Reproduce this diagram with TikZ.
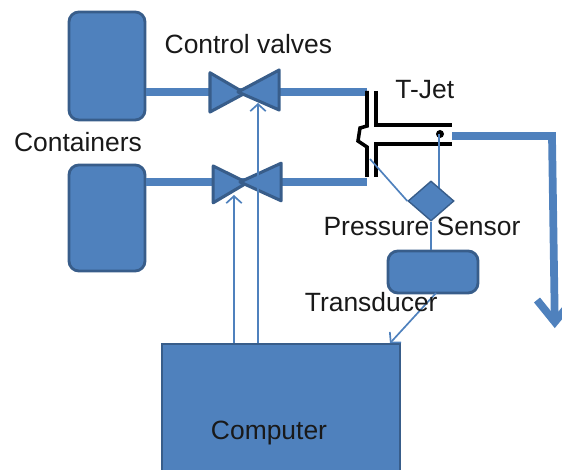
\documentclass[tikz,border=0pt]{standalone}
\usepackage{fontspec}
\setmainfont{Liberation Sans}
\usetikzlibrary{arrows.meta,shapes.geometric}
\definecolor{pipeblue}{HTML}{4F81BD}
\definecolor{edgeblue}{HTML}{385D8A}
\tikzset{
    tank/.style={draw=edgeblue, fill=pipeblue, line width=2pt, rounded corners=7pt, minimum width=1.9cm},
    pipe/.style={draw=pipeblue, line width=5.5pt},
    wire/.style={draw=pipeblue, line width=1.2pt},
    feed/.style={wire, -{Straight Barb[length=5pt,width=11pt]}},
    jet/.style={draw=black, line width=2.5pt},
    label/.style={font=\fontsize{18.8}{22}\selectfont, text=black!90, inner sep=0pt},
    valvepart/.style={draw=edgeblue, fill=pipeblue, line width=2.2pt, line join=round}
}
\begin{document}
\begin{tikzpicture}
    \useasboundingbox (0, 0) rectangle (14.05, 11.75);
    % Containers
    \node[tank, minimum height=2.7cm] (tankA) at (2.675, 10.1) {};
    \node[tank, minimum height=2.65cm] (tankB) at (2.675, 6.3) {};
    % Valve centres and pipe ends
    \coordinate (valveA) at (6.125, 9.45);
    \coordinate (valveB) at (6.175, 7.2);
    \coordinate (jetA) at (9.175, 9.45);
    \coordinate (jetB) at (9.175, 7.2);
    % Pipes
    \draw[pipe] (tankA.east |- valveA) -- (jetA);
    \draw[pipe] (tankB.east |- valveB) -- (jetB);
    % Valves
    \draw[valvepart] (5.25, 9.93) -- (5.25, 8.95) -- (6.125, 9.42) -- cycle;
    \draw[valvepart] (6.98, 10) -- (6.98, 9) -- (5.95, 9.45) -- cycle;
    \draw[valvepart] (5.33, 7.6) -- (5.33, 6.68) -- (6.175, 7.18) -- cycle;
    \draw[valvepart] (7.03, 7.67) -- (7.03, 6.73) -- (6, 7.2) -- cycle;
    % T-Jet
    \draw[jet] (9.175, 9.475) -- (9.175, 8.6) -- (9, 8.55) -- (8.95, 8.225) -- (9.175, 8.075) -- (9.175, 7.325);
    \draw[jet] (9.4, 9.475) -- (9.4, 8.625) -- (11.3, 8.625);
    \draw[jet] (11.3, 8.15) -- (9.4, 8.15) -- (9.4, 7.325);
    \node[circle, fill=black, inner sep=0pt, minimum size=0.2cm] (jetdot) at (11, 8.4) {};
    % Outlet
    \coordinate (outletA) at (11.3, 8.35);
    \coordinate (outletB) at (13.8, 8.35);
    \coordinate (outletC) at (13.87, 3.7);
    \coordinate (barbL) at (13.425, 4.25);
    \coordinate (barbR) at (14.325, 4.25);
    \draw[pipe] (outletA) -- (outletB) -- (outletC);
    \draw[pipe] (barbL) -- (outletC) -- (barbR);
    % Sensor, transducer, computer
    \coordinate (jetport) at (9.25, 7.775);
    \coordinate (dotline) at (10.975, 8.4);
    \draw[wire] (dotline) -- (dotline |- 0, 6.725);
    \node[diamond, draw=edgeblue, fill=pipeblue, line width=1pt, inner sep=0pt, minimum width=1.15cm, minimum height=1cm] (sensor) at (10.775, 6.725) {};
    \draw[wire] (sensor.west) -- (jetport);
    \node[tank, minimum width=2.25cm, minimum height=1.05cm] (transducer) at (10.825, 4.95) {};
    \draw[wire] (sensor.south) -- (sensor.south |- transducer.north);
    \node[draw=edgeblue, fill=pipeblue, line width=1.5pt, minimum width=5.95cm, minimum height=4.3cm] (computer) at (7.025, 1) {};
    % Signals
    \coordinate (tipA) at (6.45, 9.175);
    \coordinate (tipB) at (5.85, 6.875);
    \coordinate (tipC) at (9.75, 3.17);
    \coordinate (outC) at (10.9, 4.425);
    \draw[feed] (tipA |- computer.north) -- (tipA);
    \draw[feed] (tipB |- computer.north) -- (tipB);
    \draw[feed] (outC) -- (tipC);
    % Labels
    \node[label] (valvestext) at (6.21, 10.65) {Control valves};
    \node[label] (containerstext) at (1.95, 8.2) {Containers};
    \node[label] (jettext) at (10.62, 9.52) {T-Jet};
    \node[label] (sensortext) at (10.55, 6.1) {Pressure Sensor};
    \node[label] (transducertext) at (9.28, 4.2) {Transducer};
    \node[label] (computertext) at (6.725, 0.93) {Computer};
\end{tikzpicture}
\end{document}
